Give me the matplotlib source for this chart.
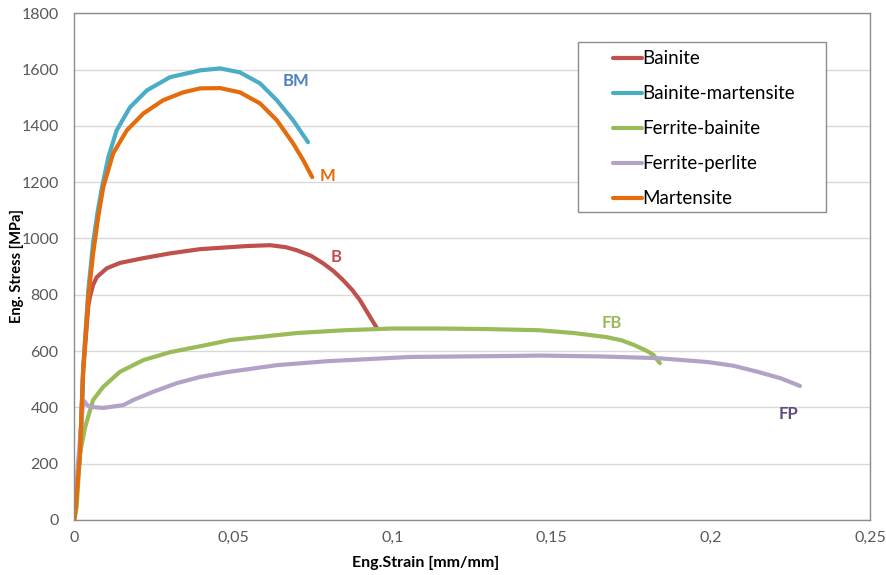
import matplotlib
matplotlib.use("Agg")
import matplotlib.pyplot as plt
from matplotlib.patches import Rectangle

plt.rcParams['font.family'] = ['Lato', 'DejaVu Sans']

# Bainite
b_strain = [0, 0.0019, 0.0029, 0.0045, 0.005, 0.006, 0.0072, 0.0103, 0.0144, 0.0218,
            0.0302, 0.0396, 0.049, 0.0543, 0.0616, 0.0665, 0.07, 0.0745, 0.0782, 0.0815,
            0.0845, 0.0873, 0.0898, 0.093, 0.0951]
b_stress = [0, 237, 532, 760, 792, 835, 863, 894, 913, 930,
            947, 962, 969, 973, 976, 969, 958, 938, 912, 884,
            852, 818, 781, 721, 682]

# Bainite-martensite
bm_strain = [0, 0.0019, 0.0029, 0.0045, 0.006, 0.0075, 0.0088, 0.0108, 0.0134, 0.0176,
             0.0229, 0.0302, 0.0396, 0.0459, 0.0521, 0.0584, 0.0637, 0.0688, 0.0735]
bm_stress = [0, 240, 545, 815, 985, 1100, 1182, 1289, 1384, 1466,
             1526, 1573, 1597, 1604, 1590, 1551, 1491, 1420, 1342]

# Ferrite-bainite
fb_strain = [0, 0.00084, 0.0019, 0.0035, 0.006, 0.0092, 0.0144, 0.0218, 0.0302, 0.0396,
             0.049, 0.06, 0.07, 0.085, 0.1, 0.115, 0.13, 0.146, 0.157, 0.167,
             0.172, 0.176, 0.18, 0.182, 0.184]
fb_stress = [0, 46, 237, 330, 426, 473, 526, 568, 596, 617,
             639, 652, 664, 674, 680, 680, 678, 674, 664, 650,
             638, 621, 600, 586, 557]

# Ferrite-perlite
fp_strain = [0, 0.0012, 0.0029, 0.004, 0.005, 0.0092, 0.0155, 0.0186, 0.0248, 0.0323,
             0.0396, 0.048, 0.0638, 0.0795, 0.1055, 0.14, 0.1464, 0.165, 0.183, 0.199,
             0.207, 0.2145, 0.222, 0.228]
fp_stress = [0, 190, 426, 410, 402, 398, 408, 426, 455, 486,
             508, 525, 550, 564, 579, 583, 584, 581, 575, 561,
             548, 527, 503, 476]

# Martensite
m_strain = [0, 0.0003, 0.0019, 0.0029, 0.0045, 0.006, 0.0076, 0.0092, 0.0123, 0.0166,
            0.0218, 0.028, 0.0343, 0.0396, 0.0459, 0.0521, 0.0584, 0.0637, 0.0688, 0.072,
            0.0748]
m_stress = [0, 10, 237, 532, 790, 945, 1076, 1182, 1302, 1384,
            1444, 1491, 1519, 1533, 1534, 1519, 1480, 1420, 1338, 1278,
            1218]

series = [
    ("Bainite", b_strain, b_stress, "#C0504D"),
    ("Bainite-martensite", bm_strain, bm_stress, "#4BACC6"),
    ("Ferrite-bainite", fb_strain, fb_stress, "#9BBB59"),
    ("Ferrite-perlite", fp_strain, fp_stress, "#B3A2C7"),
    ("Martensite", m_strain, m_stress, "#E46C0A"),
]

# curve tags: text, x, y, colour
tags = [
    ("BM", 0.0698, 1560, "#4F81BD"),
    ("M", 0.0796, 1222, "#E46C0A"),
    ("B", 0.0823, 935, "#C0504D"),
    ("FB", 0.1690, 700, "#9BBB59"),
    ("FP", 0.2245, 375, "#604A7B"),
]

fig = plt.figure(figsize=(8.87, 5.75), dpi=100)
ax = fig.add_axes([0.0834, 0.0957, 0.8975, 0.8813])

for name, x, y, c in series:
    ax.plot(x, y, color=c, lw=3, label=name, solid_capstyle='round', solid_joinstyle='round')

for t, x, y, c in tags:
    ax.text(x, y, t, color=c, fontsize=12, fontweight='bold', ha='center', va='center')

ax.set_xlim(0, 0.25)
ax.set_ylim(0, 1800)
ax.set_xticks([0, 0.05, 0.1, 0.15, 0.2, 0.25])
ax.set_xticklabels(["0", "0,05", "0,1", "0,15", "0,2", "0,25"])
ax.set_yticks(range(0, 1801, 200))
ax.tick_params(length=0, labelsize=11.5, colors="#595959")
ax.tick_params(axis='y', pad=11)
ax.tick_params(axis='x', pad=8)
ax.yaxis.grid(True, color="#D9D9D9", lw=1)
ax.set_axisbelow(True)
for s in ax.spines.values():
    s.set_linestyle((0, (2, 1)))
    s.set_color("#8C8C8C")
    s.set_linewidth(1)

fig.text(426 / 887, 1 - 563 / 575, "Eng.Strain [mm/mm]", fontsize=11.5, fontweight='bold',
         ha='center', va='center')
fig.text(17 / 887, 1 - 266 / 575, "Eng. Stress [MPa]", fontsize=10.5, fontweight='bold',
         ha='center', va='center', rotation=90)

ax.add_patch(Rectangle((0.633, 0.607), 0.312, 0.336, transform=ax.transAxes,
                       fill=True, facecolor='white', edgecolor='#8C8C8C', lw=1, zorder=4))
leg = ax.legend(loc='upper left', bbox_to_anchor=(0.6675, 0.942), frameon=False,
                fontsize=13.5, handlelength=1.55, handletextpad=0.0,
                labelspacing=0.96, borderaxespad=0)
leg.set_zorder(5)
for line in leg.get_lines():
    line.set_linewidth(3)

fig.savefig("out.png", dpi=100)
